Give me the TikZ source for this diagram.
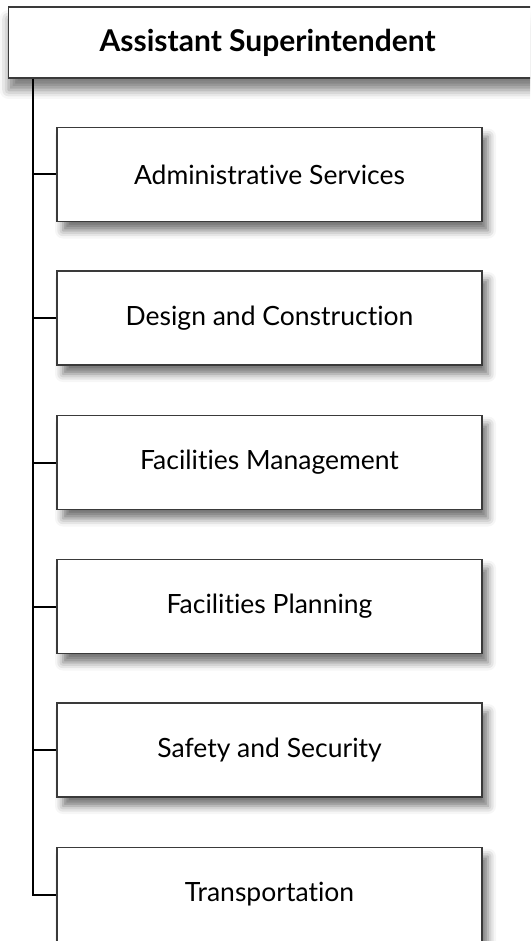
\documentclass[tikz,border=0pt]{standalone}
\usepackage{fontspec}
\setmainfont{Lato}[Ligatures=NoCommon]
\usepackage{tikz}
\usetikzlibrary{shadows.blur}
\usetikzlibrary{positioning}
\definecolor{boxline}{HTML}{3A3A3A}
\tikzstyle{head}=[rectangle,draw=boxline,fill=white,line width=1.3pt,minimum width=580pt,minimum height=71pt,inner sep=0pt,font=\fontsize{30}{34}\selectfont\bfseries,blur shadow={shadow xshift=0pt,shadow yshift=-12pt,shadow blur radius=9pt,shadow opacity=50}]
\tikzstyle{unit}=[rectangle,draw=boxline,fill=white,line width=1.3pt,minimum width=425pt,minimum height=94pt,inner sep=0pt,font=\fontsize{26.5}{30}\selectfont,blur shadow={shadow xshift=6pt,shadow yshift=-9pt,shadow blur radius=8pt,shadow opacity=55}]
\tikzstyle{trunk}=[line width=2pt,black]
\tikzset{every picture/.style={
    x=1pt,y=-1pt
  }
}
\begin{document}
\begin{tikzpicture}
        \useasboundingbox (0,0) rectangle (530,941);
        \clip (0,0) rectangle (530,941);
        \node[head,anchor=west] at (8,42.5) (boss) {\hspace*{-62pt}Assistant Superintendent};
        \node[unit] at (269.5,174.5) (admin) {Administrative Services};
        \node[unit] at (269.5,318) (design) {Design and Construction};
        \node[unit] at (269.5,462.5) (manage) {Facilities Management};
        \node[unit] at (269.5,606.5) (plan) {Facilities Planning};
        \node[unit] at (269.5,750) (safety) {Safety and Security};
        \node[unit] at (269.5,894.5) (transport) {Transportation};
        \coordinate (top) at (33,0 |- boss.south);
        \draw[trunk] (top) -- (33,0 |- transport.west) -- (transport.west);
        \draw[trunk] (33,0 |- admin.west) -- (admin.west);
        \draw[trunk] (33,0 |- design.west) -- (design.west);
        \draw[trunk] (33,0 |- manage.west) -- (manage.west);
        \draw[trunk] (33,0 |- plan.west) -- (plan.west);
        \draw[trunk] (33,0 |- safety.west) -- (safety.west);
      \end{tikzpicture}
\end{document}
